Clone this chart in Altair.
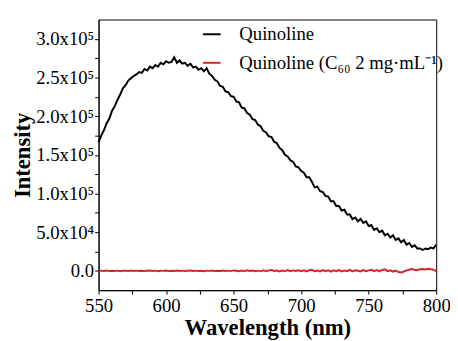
import altair as alt
import pandas as pd

wavelength = list(range(550, 801, 2))

quinoline = [
    166000, 175000, 182000, 191000, 197000, 207000, 213000, 221000, 228000, 236000,
    240000, 246000, 249000, 252000, 254000, 257000, 256000, 261000, 259000, 264000,
    262000, 266000, 264000, 269000, 267000, 271000, 269000, 270000, 276000, 269000,
    272000, 268000, 269000, 265000, 268000, 263000, 264000, 260000, 262000, 258000,
    262000, 255000, 252000, 247000, 245000, 239000, 238000, 232000, 231000, 226000,
    225000, 219000, 218000, 211000, 210000, 204000, 202000, 196000, 195000, 189000,
    187000, 181000, 179000, 174000, 173000, 167000, 165000, 159000, 156000, 150000,
    148000, 143000, 141000, 135000, 134000, 129000, 127000, 121000, 121000, 115000,
    108000, 109000, 103000, 102000, 97000, 96000, 90000, 90000, 84000, 84000,
    78000, 79000, 73000, 73000, 67000, 69000, 64000, 67000, 62000, 64000,
    58000, 59000, 53000, 55000, 50000, 52000, 46000, 48000, 43000, 46000,
    40000, 42000, 37000, 40000, 34000, 36000, 31000, 33000, 29000, 29000,
    27000, 29000, 28000, 30000, 29000, 34000,
]

quinoline_c60 = [
    0, 300, -200, 400, -300, 200, -100, 300, -400, 200,
    100, -300, 400, -200, 300, -100, 200, -300, 100, 400,
    -200, 300, -400, 200, 0, 500, -300, 200, -100, 400,
    -200, 300, -300, 100, 500, -200, 300, -100, 200, -400,
    300, 0, 500, -300, 200, -200, 400, -100, 300, -300,
    600,
    200, -500, 400, -300, 700, -200, 500, -400, 300, -600,
    800, -300, 600, 1200, -200, 500, -700, 400, -300, 900,
    -500, 600, -200, 800, -400,
    700, -600, 900, 1300, -500, 400, -800, 1000, -300, 600,
    -900, 800, -400, 1100, -700, 500, -300, 1200, -600, 900,
    200, -800, 1000, -500, 700,
    1500, -400, 900, -700, 1200, 2000, -300, 800, -1000, 500,
    -1500, -2000, -800, 600, 1500, 2800, 1000, 800, 2200, 2500,
    1800, 2600, 2000, 1500, -500,
]

series_names = ["Quinoline", "Quinoline (C\u2086\u2080 2 mg\u00b7mL\u207b\u00b9)"]
series_colors = ["#000000", "#d9232a"]

x_ticks = list(range(550, 801, 25))
y_ticks = list(range(0, 300001, 25000))

rows = []
for name, vals in zip(series_names, [quinoline, quinoline_c60]):
    for w, v in zip(wavelength, vals):
        rows.append({"wavelength": w, "intensity": v, "series": name})
df = pd.DataFrame(rows)

font = "Liberation Serif, Times New Roman, serif"

y_label_expr = (
    "datum.value == 0 ? '0.0' : (datum.value % 50000 != 0 ? '' : "
    "(datum.value < 100000 ? format(datum.value / 10000, '.1f') + 'x10\u2074' : "
    "format(datum.value / 100000, '.1f') + 'x10\u2075'))"
)
x_label_expr = "datum.value % 50 == 0 ? datum.label : ''"

chart = alt.Chart(df).mark_line(strokeWidth=2).encode(
    x=alt.X(
        "wavelength:Q",
        scale=alt.Scale(domain=[550, 800], nice=False, zero=False),
        axis=alt.Axis(
            values=x_ticks,
            labelExpr=x_label_expr,
            title="Wavelength (nm)",
            labelFont=font,
            titleFont=font,
            labelPadding=3,
            titlePadding=1,
            labelFlush=False,
        ),
    ),
    y=alt.Y(
        "intensity:Q",
        scale=alt.Scale(domain=[-25000, 325000], nice=False, zero=False),
        axis=alt.Axis(
            values=y_ticks,
            labelExpr=y_label_expr,
            title="Intensity",
            labelFont=font,
            titleFont=font,
            labelPadding=1,
            titlePadding=1,
            labelFlush=False,
        ),
    ),
    color=alt.Color(
        "series:N",
        scale=alt.Scale(domain=series_names, range=series_colors),
        legend=alt.Legend(
            title=None,
            orient="none",
            legendX=105,
            legendY=5,
            symbolType="stroke",
            symbolSize=324,
            symbolStrokeWidth=2,
            labelFont=font,
            labelFontSize=19,
            labelColor="black",
            labelOffset=18,
            labelLimit=400,
            rowPadding=9,
            padding=0,
        ),
    ),
).properties(
    width=343,
    height=275,
    autosize=alt.AutoSizeParams(type="none"),
    padding={"left": 92, "top": 9, "right": 14, "bottom": 54},
).configure_view(
    stroke="black", strokeWidth=1
).configure_axis(
    labelFont=font,
    labelFontSize=19,
    titleFont=font,
    titleFontSize=23,
    titleFontWeight="bold",
    titleColor="black",
    labelColor="black",
    tickColor="black",
    domainColor="black",
    tickSize=4,
    grid=False,
)

chart.save("out.html", embed_options={"renderer": "svg", "actions": False})
